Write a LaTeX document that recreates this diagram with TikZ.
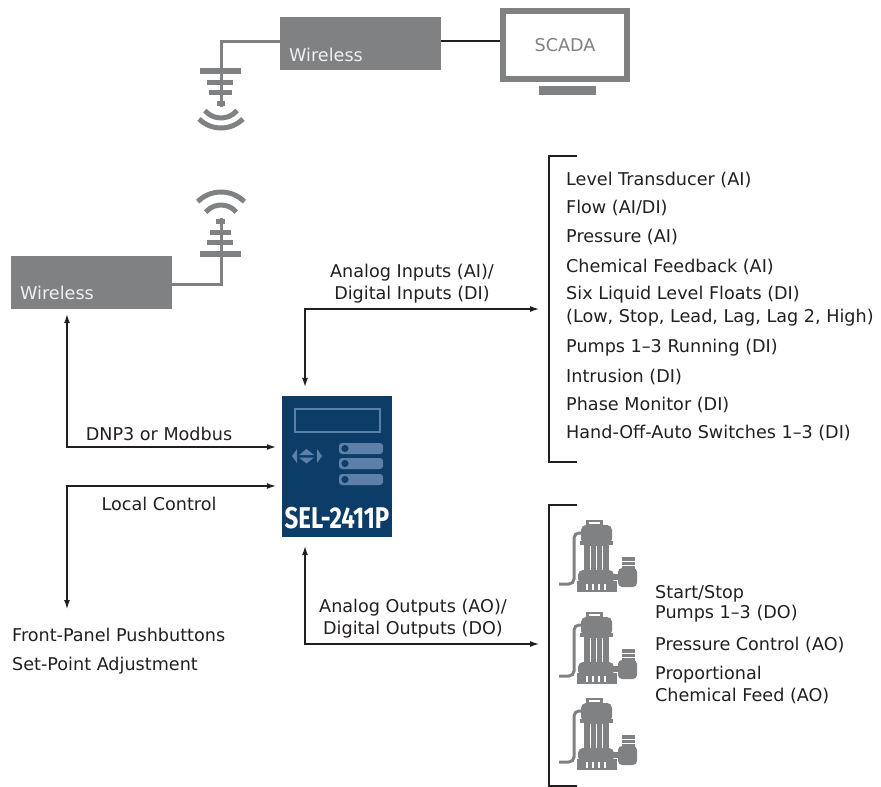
\documentclass[tikz,border=0pt]{standalone}
\usepackage{fontspec}
\usepackage{graphicx}
\setmainfont{DejaVu Sans}
\newfontfamily\selfont{Fira Sans}
\usetikzlibrary{arrows.meta,positioning}

\definecolor{selgray}{HTML}{808183}
\definecolor{selnavy}{HTML}{0C3D69}
\definecolor{selblue}{HTML}{5E80A8}
\definecolor{txtblack}{HTML}{231F20}

\tikzset{
  lbl/.style={font=\fontsize{17.6}{22}\selectfont, text=txtblack, inner sep=0pt},
  listlbl/.style={lbl, anchor=west},
  wltxt/.style={lbl, text=white!94!black, anchor=base west},
  graybox/.style={fill=selgray, inner sep=0pt},
  antline/.style={draw=selgray, line width=3pt},
  wave/.style={draw=selgray, line width=5pt},
  arrboth/.style={line width=2pt, draw=txtblack,
    {Latex[length=10pt,width=6pt]}-{Latex[length=10pt,width=6pt]}},
  brk/.style={line width=2pt, draw=txtblack},
  selbtn/.style={fill=selblue, rounded corners=3pt},
}

\begin{document}
\begin{tikzpicture}[x=1pt,y=-1pt]
\useasboundingbox (0,0) rectangle (881,787);

% SCADA side
\node[graybox, minimum width=161pt, minimum height=53pt] (wltop) at (360.5,43.5) {};
\node[wltxt] (wltoptxt) at (289,61) {Wireless};
\node[draw=selgray, line width=6pt, minimum width=124pt, minimum height=68pt,
  lbl, text=selgray] (scada) at (565,45) {SCADA};
\fill[selgray] (539,86) rectangle (596,95);
\draw[line width=2pt, txtblack] ([yshift=2.5pt]wltop.east) -- ([yshift=2.5pt]wltop.east -| scada.west);

% antenna under the SCADA radio
\coordinate (mast1) at (221,107);
\draw[antline] ([yshift=2.5pt]wltop.west) -| (mast1);
\fill[selgray] (200,68) rectangle (241,74);
\fill[selgray] (207,80) rectangle (233,85);
\fill[selgray] (209,90) rectangle (232,95);
\fill[selgray] (217,101) rectangle (225,106);
\draw[wave] (221,97) ++(40:21) arc[start angle=40, end angle=140, radius=21];
\draw[wave] (221,97) ++(45:31) arc[start angle=45, end angle=135, radius=31];

% station radio
\node[graybox, minimum width=161pt, minimum height=53pt] (wl) at (91.5,282.5) {};
\node[wltxt] (wltxt) at (20,299) {Wireless};
\coordinate (mast2) at (221,218);
\draw[antline] ([yshift=-1.5pt]wl.east) -| (mast2);
\fill[selgray] (200,251) rectangle (241,257);
\fill[selgray] (207,240) rectangle (233,245);
\fill[selgray] (210,230) rectangle (231,235);
\fill[selgray] (216,219) rectangle (225,224);
\draw[wave] (221,225) ++(220:20) arc[start angle=220, end angle=320, radius=20];
\draw[wave] (221,225) ++(225:33) arc[start angle=225, end angle=315, radius=33];

% relay
\node[fill=selnavy, minimum width=110pt, minimum height=141pt, inner sep=0pt] (sel) at (337,466.5) {};
\draw[selblue, line width=2pt] (295,409) rectangle (380,432);
\fill[selblue] (292,456) -- (297,449) -- (297,463) -- cycle;
\fill[selblue] (299,455) -- (306.5,449) -- (314,455) -- cycle;
\fill[selblue] (299,457.5) -- (306.5,463.5) -- (314,457.5) -- cycle;
\fill[selblue] (322,456) -- (317,449) -- (317,463) -- cycle;
\fill[selbtn] (339,443) rectangle (383,454);
\fill[selbtn] (339,458) rectangle (383,469);
\fill[selbtn] (339,474) rectangle (383,485);
\filldraw[fill=selnavy, draw=selblue, line width=1.5pt] (345,448.5) circle (4.5);
\filldraw[fill=selnavy, draw=selblue, line width=1.5pt] (345,463.5) circle (4.5);
\filldraw[fill=selnavy, draw=selblue, line width=1.5pt] (345,479.5) circle (4.5);
\node[font=\selfont\fontsize{30}{30}\selectfont\bfseries, text=white, inner sep=0pt, anchor=base]
  (seltxt) at (337,528) {\scalebox{0.8}[1]{SEL-2411P}};

% communications and local control
\coordinate (dnpcorner) at (67,447);
\draw[arrboth, shorten <=4pt, shorten >=5pt] (wl.south -| dnpcorner) -- (dnpcorner) -- (sel.west |- dnpcorner);
\node[lbl] (dnplbl) at (159,434) {DNP3 or Modbus};
\coordinate (lccorner) at (67,486);
\coordinate (fparrow) at (67,610);
\draw[arrboth, shorten >=5pt] (fparrow) -- (lccorner) -- (sel.west |- lccorner);
\node[lbl] (lclbl) at (159,504) {Local Control};
\node[lbl, anchor=west, align=left, font=\fontsize{17.6}{28.5}\selectfont] (fplbl) at (12,651)
  {Front-Panel Pushbuttons\\Set-Point Adjustment};

% inputs
\coordinate (aicorner) at (305,309);
\coordinate (inbrk) at (549,309);
\draw[arrboth, shorten <=8pt, shorten >=9pt] (sel.north -| aicorner) -- (aicorner) -- (inbrk);
\node[lbl, align=center] (ailbl) at (412,284) {Analog Inputs (AI)/\\Digital Inputs (DI)};
\draw[brk] (577,156) -- (549,156) -- (549,462) -- (577,462);
\node[listlbl] (in1) at (566,180) {Level Transducer (AI)};
\node[listlbl] (in2) at (566,208) {Flow (AI/DI)};
\node[listlbl] (in3) at (566,237) {Pressure (AI)};
\node[listlbl] (in4) at (566,267) {Chemical Feedback (AI)};
\node[listlbl] (in5) at (566,295) {Six Liquid Level Floats (DI)};
\node[listlbl] (in5b) at (566,318) {(Low, Stop, Lead, Lag, Lag 2, High)};
\node[listlbl] (in6) at (566,348) {Pumps 1–3 Running (DI)};
\node[listlbl] (in7) at (566,377) {Intrusion (DI)};
\node[listlbl] (in8) at (566,405) {Phase Monitor (DI)};
\node[listlbl] (in9) at (566,433) {Hand-Off-Auto Switches 1–3 (DI)};

% outputs
\coordinate (aocorner) at (305,644);
\coordinate (outbrk) at (549,644);
\draw[arrboth, shorten <=8pt, shorten >=9pt] (sel.south -| aocorner) -- (aocorner) -- (outbrk);
\node[lbl, align=center] (aolbl) at (413,619) {Analog Outputs (AO)/\\Digital Outputs (DO)};
\draw[brk] (577,505) -- (549,505) -- (549,786) -- (577,786);
\node[listlbl] (out1) at (655,594) {Start/Stop};
\node[listlbl] (out1b) at (655,614) {Pumps 1–3 (DO)};
\node[listlbl] (out2) at (655,645) {Pressure Control (AO)};
\node[listlbl] (out3) at (655,675) {Proportional};
\node[listlbl] (out3b) at (655,696) {Chemical Feed (AO)};

% pumps
\foreach \py in {520,612,698} {
\begin{scope}[shift={(558,\py)}]
  \fill[selgray] (28,0) rectangle (45,6);
  \fill[white] (31,2) rectangle (42,4);
  \fill[selgray, rounded corners=5pt] (23,24) -- (23,5) -- (54,5) -- (54,24) -- cycle;
  \fill[selgray] (22,21) rectangle (55,25);
  \fill[selgray] (26,25) rectangle (51,51);
  \fill[white] (31.5,26) rectangle (33,50);
  \fill[white] (37.5,26) rectangle (39,50);
  \fill[white] (43.5,26) rectangle (45,50);
  \fill[selgray, rounded corners=5pt] (20,50) rectangle (56,64);
  \fill[selgray] (19,61) rectangle (59,72);
  \fill[white] (28,64) rectangle (30,70);
  \fill[white] (34,64) rectangle (36,70);
  \fill[white] (40,64) rectangle (42,70);
  \fill[white] (46,64) rectangle (48,70);
  \draw[selgray, line width=3pt, rounded corners=5pt] (24,13) -- (16,13) -- (16,64) -- (1,64);
  \fill[selgray] (55,54) rectangle (61,60);
  \fill[selgray, rounded corners=4pt] (60,48) rectangle (79,67);
  \fill[selgray] (64,37) rectangle (77,49);
  \draw[white, line width=1pt] (64,41) -- (77,41);
  \draw[white, line width=1pt] (64,45) -- (77,45);
\end{scope}
}
\end{tikzpicture}
\end{document}
